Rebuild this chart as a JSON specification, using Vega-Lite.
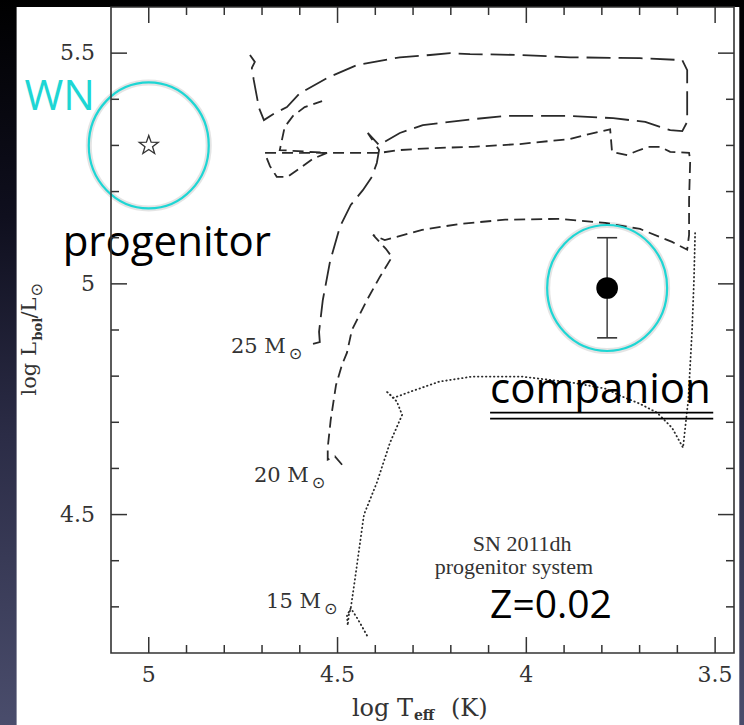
{
  "$schema": "https://vega.github.io/schema/vega-lite/v6.json",
  "autosize": {"type": "none"},
  "width": 623,
  "height": 646,
  "padding": {"left": 111, "top": 7, "right": 10, "bottom": 72},
  "background": "#000000",
  "config": {"view": {"stroke": null}},
  "datasets": {
    "t25": [
      {"i":1,"T":4.565,"L":4.870},{"i":2,"T":4.547,"L":4.874},{"i":3,"T":4.549,"L":4.896},{"i":4,"T":4.539,"L":4.965},
      {"i":5,"T":4.520,"L":5.048},{"i":6,"T":4.494,"L":5.123},{"i":7,"T":4.465,"L":5.171},{"i":8,"T":4.433,"L":5.203},
      {"i":9,"T":4.409,"L":5.232},{"i":10,"T":4.396,"L":5.262},{"i":11,"T":4.390,"L":5.290},{"i":12,"T":4.420,"L":5.327},
      {"i":13,"T":4.390,"L":5.301},{"i":14,"T":4.335,"L":5.327},{"i":15,"T":4.274,"L":5.344},{"i":16,"T":4.141,"L":5.357},
      {"i":17,"T":4.051,"L":5.364},{"i":18,"T":3.884,"L":5.364},{"i":19,"T":3.770,"L":5.359},{"i":20,"T":3.685,"L":5.351},
      {"i":21,"T":3.619,"L":5.333},{"i":22,"T":3.587,"L":5.331},{"i":23,"T":3.574,"L":5.351},{"i":24,"T":3.574,"L":5.409},
      {"i":25,"T":3.574,"L":5.463},{"i":26,"T":3.587,"L":5.485},{"i":27,"T":3.699,"L":5.489},{"i":28,"T":3.884,"L":5.491},
      {"i":29,"T":4.017,"L":5.496},{"i":30,"T":4.149,"L":5.498},{"i":31,"T":4.202,"L":5.500},{"i":32,"T":4.255,"L":5.496},
      {"i":33,"T":4.335,"L":5.491},{"i":34,"T":4.449,"L":5.474},{"i":35,"T":4.528,"L":5.446},{"i":36,"T":4.600,"L":5.413},
      {"i":37,"T":4.634,"L":5.383},{"i":38,"T":4.666,"L":5.370},{"i":39,"T":4.695,"L":5.355},{"i":40,"T":4.708,"L":5.381},
      {"i":41,"T":4.722,"L":5.442},{"i":42,"T":4.727,"L":5.468},{"i":43,"T":4.719,"L":5.481},{"i":44,"T":4.732,"L":5.496}
    ],
    "t20": [
      {"i":1,"T":4.488,"L":4.608},{"i":2,"T":4.507,"L":4.626},{"i":3,"T":4.526,"L":4.619},{"i":4,"T":4.526,"L":4.645},
      {"i":5,"T":4.518,"L":4.706},{"i":6,"T":4.504,"L":4.781},{"i":7,"T":4.488,"L":4.825},{"i":8,"T":4.475,"L":4.851},
      {"i":9,"T":4.462,"L":4.900},{"i":10,"T":4.422,"L":4.965},{"i":11,"T":4.388,"L":5.015},{"i":12,"T":4.356,"L":5.058},
      {"i":13,"T":4.372,"L":5.076},{"i":14,"T":4.406,"L":5.106},{"i":15,"T":4.375,"L":5.095},{"i":16,"T":4.276,"L":5.117},
      {"i":17,"T":4.176,"L":5.130},{"i":18,"T":4.056,"L":5.139},{"i":19,"T":3.911,"L":5.141},{"i":20,"T":3.791,"L":5.132},
      {"i":21,"T":3.699,"L":5.119},{"i":22,"T":3.614,"L":5.091},{"i":23,"T":3.574,"L":5.074},{"i":24,"T":3.569,"L":5.106},
      {"i":25,"T":3.569,"L":5.182},{"i":26,"T":3.566,"L":5.268},{"i":27,"T":3.569,"L":5.284},{"i":28,"T":3.619,"L":5.286},
      {"i":29,"T":3.646,"L":5.297},{"i":30,"T":3.677,"L":5.297},{"i":31,"T":3.707,"L":5.288},{"i":32,"T":3.733,"L":5.279},
      {"i":33,"T":3.773,"L":5.286},{"i":34,"T":3.778,"L":5.335},{"i":35,"T":3.831,"L":5.325},{"i":36,"T":3.884,"L":5.314},
      {"i":37,"T":4.017,"L":5.303},{"i":38,"T":4.141,"L":5.297},{"i":39,"T":4.255,"L":5.294},{"i":40,"T":4.335,"L":5.290},
      {"i":41,"T":4.388,"L":5.284},{"i":42,"T":4.520,"L":5.284},{"i":43,"T":4.600,"L":5.284},{"i":44,"T":4.693,"L":5.284},
      {"i":45,"T":4.679,"L":5.255},{"i":46,"T":4.661,"L":5.232},{"i":47,"T":4.632,"L":5.232},{"i":48,"T":4.565,"L":5.271},
      {"i":49,"T":4.528,"L":5.284},{"i":50,"T":4.653,"L":5.290},{"i":51,"T":4.640,"L":5.340},{"i":52,"T":4.618,"L":5.364},
      {"i":53,"T":4.587,"L":5.383},{"i":54,"T":4.541,"L":5.396}
    ],
    "t15": [
      {"i":1,"T":4.422,"L":4.238},{"i":2,"T":4.446,"L":4.273},{"i":3,"T":4.465,"L":4.297},{"i":4,"T":4.475,"L":4.281},
      {"i":5,"T":4.473,"L":4.260},{"i":6,"T":4.470,"L":4.283},{"i":7,"T":4.465,"L":4.297},{"i":8,"T":4.454,"L":4.359},
      {"i":9,"T":4.443,"L":4.424},{"i":10,"T":4.430,"L":4.500},{"i":11,"T":4.396,"L":4.569},{"i":12,"T":4.361,"L":4.656},
      {"i":13,"T":4.329,"L":4.716},{"i":14,"T":4.343,"L":4.745},{"i":15,"T":4.372,"L":4.768},{"i":16,"T":4.351,"L":4.753},
      {"i":17,"T":4.308,"L":4.766},{"i":18,"T":4.231,"L":4.788},{"i":19,"T":4.144,"L":4.799},{"i":20,"T":4.011,"L":4.799},
      {"i":21,"T":3.879,"L":4.786},{"i":22,"T":3.791,"L":4.773},{"i":23,"T":3.744,"L":4.755},{"i":24,"T":3.699,"L":4.740},
      {"i":25,"T":3.654,"L":4.721},{"i":26,"T":3.614,"L":4.688},{"i":27,"T":3.585,"L":4.645},{"i":28,"T":3.571,"L":4.749},
      {"i":29,"T":3.561,"L":4.900},{"i":30,"T":3.556,"L":5.009},{"i":31,"T":3.553,"L":5.110}
    ],
    "xmaj": [{"v":3.5},{"v":4.0},{"v":4.5},{"v":5.0}],
    "xmin": [{"v":3.6},{"v":3.7},{"v":3.8},{"v":3.9},{"v":4.1},{"v":4.2},{"v":4.3},{"v":4.4},{"v":4.6},{"v":4.7},{"v":4.8},{"v":4.9}],
    "ymaj": [{"v":4.5},{"v":5.0},{"v":5.5}],
    "ymin": [{"v":4.3},{"v":4.4},{"v":4.6},{"v":4.7},{"v":4.8},{"v":4.9},{"v":5.1},{"v":5.2},{"v":5.3},{"v":5.4}],
    "xlab": [{"lab":3.5},{"lab":4.0},{"lab":4.5},{"lab":5.0}],
    "ylab": [{"lab":4.5},{"lab":5.0},{"lab":5.5}],
    "stars": [
      {"name":"progenitor","T":5.0,"L":5.30},
      {"name":"companion","T":3.786,"L":4.991,"lo":4.883,"hi":5.100}
    ],
    "masslabels": [
      {"text":"25 M","T":4.637,"L":4.851},
      {"text":"20 M","T":4.576,"L":4.571},
      {"text":"15 M","T":4.544,"L":4.297}
    ],
    "notes": [
      {"text":"SN 2011dh","T":4.011,"L":4.422},
      {"text":"progenitor system","T":4.033,"L":4.372}
    ],
    "slide": [
      {"text":"progenitor","T":5.228,"L":5.061},
      {"text":"companion","T":4.096,"L":4.742}
    ],
    "slidez": [
      {"text":"Z=0.02","T":4.096,"L":4.275}
    ],
    "slidecyan": [
      {"text":"WN","T":5.329,"L":5.377}
    ]
  },
  "layer": [
    {
      "data": {"values": [{}]},
      "mark": {"type": "rect", "fill": {"gradient": "linear", "x1": 0, "y1": 0, "x2": 0, "y2": 1,
        "stops": [{"offset": 0, "color": "#000000"}, {"offset": 0.3, "color": "#0f0f1e"}, {"offset": 0.6, "color": "#2b2c46"}, {"offset": 1, "color": "#4a4d6c"}]}},
      "encoding": {
        "x": {"datum": 5.6, "type": "quantitative", "scale": {"domain": [3.45, 5.1], "reverse": true, "nice": false, "zero": false}, "axis": null},
        "x2": {"datum": 3.3},
        "y": {"datum": 5.62, "type": "quantitative", "scale": {"domain": [4.2, 5.6], "nice": false, "zero": false}, "axis": null},
        "y2": {"datum": 4.04}
      }
    },
    {
      "data": {"values": [{}]},
      "mark": {"type": "rect", "fill": "#ffffff"},
      "encoding": {
        "x": {"datum": 5.35, "type": "quantitative", "scale": {"domain": [3.45, 5.1], "reverse": true, "nice": false, "zero": false}, "axis": null},
        "x2": {"datum": 3.436},
        "y": {"datum": 5.6, "type": "quantitative", "scale": {"domain": [4.2, 5.6], "nice": false, "zero": false}, "axis": null},
        "y2": {"datum": 4.04}
      }
    },
    {
      "data": {"name": "xlab"},
      "mark": {"type": "text", "align": "center", "baseline": "top", "font": "DejaVu Serif", "fontSize": 22, "color": "#333333", "dy": 12},
      "encoding": {
        "x": {"field": "lab", "type": "quantitative", "scale": {"domain": [3.45, 5.1], "reverse": true, "nice": false, "zero": false}, "axis": null},
        "y": {"datum": 4.2, "type": "quantitative", "scale": {"domain": [4.2, 5.6], "nice": false, "zero": false}, "axis": null},
        "text": {"field": "lab", "type": "quantitative", "format": "~g"}
      }
    },
    {
      "data": {"name": "ylab"},
      "mark": {"type": "text", "align": "right", "baseline": "middle", "font": "DejaVu Serif", "fontSize": 22, "color": "#333333", "dx": -16},
      "encoding": {
        "y": {"field": "lab", "type": "quantitative", "scale": {"domain": [4.2, 5.6], "nice": false, "zero": false}, "axis": null},
        "x": {"datum": 5.1, "type": "quantitative", "scale": {"domain": [3.45, 5.1], "reverse": true, "nice": false, "zero": false}, "axis": null},
        "text": {"field": "lab", "type": "quantitative", "format": "~g"}
      }
    },
    {
      "data": {"name": "t25"},
      "mark": {"type": "line", "stroke": "#2a2a2a", "strokeWidth": 1.8, "strokeDash": [24, 8]},
      "encoding": {
        "x": {"field": "T", "type": "quantitative", "scale": {"domain": [3.45, 5.1], "reverse": true, "nice": false, "zero": false}, "axis": null},
        "y": {"field": "L", "type": "quantitative", "scale": {"domain": [4.2, 5.6], "nice": false, "zero": false}, "axis": null},
        "order": {"field": "i", "type": "quantitative"}
      }
    },
    {
      "data": {"name": "t20"},
      "mark": {"type": "line", "stroke": "#2a2a2a", "strokeWidth": 1.8, "strokeDash": [11, 6]},
      "encoding": {
        "x": {"field": "T", "type": "quantitative", "scale": {"domain": [3.45, 5.1], "reverse": true, "nice": false, "zero": false}, "axis": null},
        "y": {"field": "L", "type": "quantitative", "scale": {"domain": [4.2, 5.6], "nice": false, "zero": false}, "axis": null},
        "order": {"field": "i", "type": "quantitative"}
      }
    },
    {
      "data": {"name": "t15"},
      "mark": {"type": "line", "stroke": "#2a2a2a", "strokeWidth": 1.8, "strokeDash": [0.5, 3.5], "strokeCap": "round"},
      "encoding": {
        "x": {"field": "T", "type": "quantitative", "scale": {"domain": [3.45, 5.1], "reverse": true, "nice": false, "zero": false}, "axis": null},
        "y": {"field": "L", "type": "quantitative", "scale": {"domain": [4.2, 5.6], "nice": false, "zero": false}, "axis": null},
        "order": {"field": "i", "type": "quantitative"}
      }
    },
    {
      "data": {"name": "stars"},
      "mark": {"type": "point", "shape": "M -0.952 0 A 0.952 1 0 1 1 0.952 0 A 0.952 1 0 1 1 -0.952 0 Z", "size": 15876, "filled": false, "stroke": "#000000", "strokeWidth": 6, "opacity": 0.1},
      "encoding": {
        "x": {"field": "T", "type": "quantitative", "scale": {"domain": [3.45, 5.1], "reverse": true, "nice": false, "zero": false}, "axis": null},
        "y": {"field": "L", "type": "quantitative", "scale": {"domain": [4.2, 5.6], "nice": false, "zero": false}, "axis": null}
      }
    },
    {
      "data": {"name": "stars"},
      "mark": {"type": "point", "shape": "M -0.952 0 A 0.952 1 0 1 1 0.952 0 A 0.952 1 0 1 1 -0.952 0 Z", "size": 15876, "filled": false, "stroke": "#1ed6d4", "strokeWidth": 2.2, "opacity": 1},
      "encoding": {
        "x": {"field": "T", "type": "quantitative", "scale": {"domain": [3.45, 5.1], "reverse": true, "nice": false, "zero": false}, "axis": null},
        "y": {"field": "L", "type": "quantitative", "scale": {"domain": [4.2, 5.6], "nice": false, "zero": false}, "axis": null}
      }
    },
    {
      "data": {"name": "stars"},
      "transform": [{"filter": "datum.name == 'progenitor'"}],
      "mark": {"type": "point", "shape": "M0,-1L0.235,-0.324L0.951,-0.309L0.380,0.124L0.588,0.809L0,0.4L-0.588,0.809L-0.380,0.124L-0.951,-0.309L-0.235,-0.324Z", "size": 400, "filled": false, "stroke": "#333333", "strokeWidth": 1.3, "opacity": 1},
      "encoding": {
        "x": {"field": "T", "type": "quantitative", "scale": {"domain": [3.45, 5.1], "reverse": true, "nice": false, "zero": false}, "axis": null},
        "y": {"field": "L", "type": "quantitative", "scale": {"domain": [4.2, 5.6], "nice": false, "zero": false}, "axis": null}
      }
    },
    {
      "data": {"name": "stars"},
      "transform": [{"filter": "datum.name == 'companion'"}],
      "mark": {"type": "rule", "stroke": "#333333", "strokeWidth": 1.4},
      "encoding": {
        "x": {"field": "T", "type": "quantitative", "scale": {"domain": [3.45, 5.1], "reverse": true, "nice": false, "zero": false}, "axis": null},
        "y": {"field": "lo", "type": "quantitative", "scale": {"domain": [4.2, 5.6], "nice": false, "zero": false}, "axis": null},
        "y2": {"field": "hi"}
      }
    },
    {
      "data": {"name": "stars"},
      "transform": [{"filter": "datum.name == 'companion'"}],
      "mark": {"type": "tick", "orient": "horizontal", "size": 20, "thickness": 1.6, "color": "#333333", "opacity": 1},
      "encoding": {
        "x": {"field": "T", "type": "quantitative", "scale": {"domain": [3.45, 5.1], "reverse": true, "nice": false, "zero": false}, "axis": null},
        "y": {"field": "lo", "type": "quantitative", "scale": {"domain": [4.2, 5.6], "nice": false, "zero": false}, "axis": null}
      }
    },
    {
      "data": {"name": "stars"},
      "transform": [{"filter": "datum.name == 'companion'"}],
      "mark": {"type": "tick", "orient": "horizontal", "size": 20, "thickness": 1.6, "color": "#333333", "opacity": 1},
      "encoding": {
        "x": {"field": "T", "type": "quantitative", "scale": {"domain": [3.45, 5.1], "reverse": true, "nice": false, "zero": false}, "axis": null},
        "y": {"field": "hi", "type": "quantitative", "scale": {"domain": [4.2, 5.6], "nice": false, "zero": false}, "axis": null}
      }
    },
    {
      "data": {"name": "stars"},
      "transform": [{"filter": "datum.name == 'companion'"}],
      "mark": {"type": "point", "shape": "circle", "size": 470, "filled": true, "color": "#000000", "opacity": 1},
      "encoding": {
        "x": {"field": "T", "type": "quantitative", "scale": {"domain": [3.45, 5.1], "reverse": true, "nice": false, "zero": false}, "axis": null},
        "y": {"field": "L", "type": "quantitative", "scale": {"domain": [4.2, 5.6], "nice": false, "zero": false}, "axis": null}
      }
    },
    {
      "data": {"name": "masslabels"},
      "mark": {"type": "text", "align": "right", "baseline": "alphabetic", "font": "DejaVu Serif", "fontSize": 21, "color": "#333333"},
      "encoding": {
        "x": {"field": "T", "type": "quantitative", "scale": {"domain": [3.45, 5.1], "reverse": true, "nice": false, "zero": false}, "axis": null},
        "y": {"field": "L", "type": "quantitative", "scale": {"domain": [4.2, 5.6], "nice": false, "zero": false}, "axis": null},
        "text": {"field": "text"}
      }
    },
    {
      "data": {"name": "masslabels"},
      "mark": {"type": "text", "align": "left", "baseline": "alphabetic", "font": "DejaVu Sans", "fontSize": 16, "color": "#333333", "dx": 3, "dy": 6},
      "encoding": {
        "x": {"field": "T", "type": "quantitative", "scale": {"domain": [3.45, 5.1], "reverse": true, "nice": false, "zero": false}, "axis": null},
        "y": {"field": "L", "type": "quantitative", "scale": {"domain": [4.2, 5.6], "nice": false, "zero": false}, "axis": null},
        "text": {"value": "⊙"}
      }
    },
    {
      "data": {"name": "notes"},
      "mark": {"type": "text", "align": "center", "baseline": "alphabetic", "font": "Liberation Serif", "fontSize": 22, "color": "#333333"},
      "encoding": {
        "x": {"field": "T", "type": "quantitative", "scale": {"domain": [3.45, 5.1], "reverse": true, "nice": false, "zero": false}, "axis": null},
        "y": {"field": "L", "type": "quantitative", "scale": {"domain": [4.2, 5.6], "nice": false, "zero": false}, "axis": null},
        "text": {"field": "text"}
      }
    },
    {
      "data": {"name": "slide"},
      "mark": {"type": "text", "align": "left", "baseline": "alphabetic", "font": "Open Sans", "fontSize": 42, "color": "#000000"},
      "encoding": {
        "x": {"field": "T", "type": "quantitative", "scale": {"domain": [3.45, 5.1], "reverse": true, "nice": false, "zero": false}, "axis": null},
        "y": {"field": "L", "type": "quantitative", "scale": {"domain": [4.2, 5.6], "nice": false, "zero": false}, "axis": null},
        "text": {"field": "text"}
      }
    },
    {
      "data": {"name": "slidez"},
      "mark": {"type": "text", "align": "left", "baseline": "alphabetic", "font": "Open Sans", "fontSize": 39, "color": "#000000"},
      "encoding": {
        "x": {"field": "T", "type": "quantitative", "scale": {"domain": [3.45, 5.1], "reverse": true, "nice": false, "zero": false}, "axis": null},
        "y": {"field": "L", "type": "quantitative", "scale": {"domain": [4.2, 5.6], "nice": false, "zero": false}, "axis": null},
        "text": {"field": "text"}
      }
    },
    {
      "data": {"name": "slidecyan"},
      "mark": {"type": "text", "align": "left", "baseline": "alphabetic", "font": "Open Sans", "fontSize": 42, "color": "#1ed6d4"},
      "encoding": {
        "x": {"field": "T", "type": "quantitative", "scale": {"domain": [3.45, 5.1], "reverse": true, "nice": false, "zero": false}, "axis": null},
        "y": {"field": "L", "type": "quantitative", "scale": {"domain": [4.2, 5.6], "nice": false, "zero": false}, "axis": null},
        "text": {"field": "text"}
      }
    },
    {
      "data": {"values": [{}]},
      "mark": {"type": "rule", "stroke": "#000000", "strokeWidth": 1.8},
      "encoding": {
        "x": {"datum": 4.096, "type": "quantitative", "scale": {"domain": [3.45, 5.1], "reverse": true, "nice": false, "zero": false}, "axis": null},
        "x2": {"datum": 3.505},
        "y": {"datum": 4.721, "type": "quantitative", "scale": {"domain": [4.2, 5.6], "nice": false, "zero": false}, "axis": null}
      }
    },
    {
      "data": {"values": [{}]},
      "mark": {"type": "rule", "stroke": "#000000", "strokeWidth": 1.8},
      "encoding": {
        "x": {"datum": 4.096, "type": "quantitative", "scale": {"domain": [3.45, 5.1], "reverse": true, "nice": false, "zero": false}, "axis": null},
        "x2": {"datum": 3.505},
        "y": {"datum": 4.708, "type": "quantitative", "scale": {"domain": [4.2, 5.6], "nice": false, "zero": false}, "axis": null}
      }
    },
    {
      "data": {"values": [{}]},
      "mark": {"type": "text", "align": "left", "baseline": "alphabetic", "font": "DejaVu Serif", "fontSize": 24, "color": "#333333"},
      "encoding": {
        "x": {"datum": 4.462, "type": "quantitative", "scale": {"domain": [3.45, 5.1], "reverse": true, "nice": false, "zero": false}, "axis": null},
        "y": {"datum": 4.0635, "type": "quantitative", "scale": {"domain": [4.2, 5.6], "nice": false, "zero": false}, "axis": null},
        "text": {"value": "log T"}
      }
    },
    {
      "data": {"values": [{}]},
      "mark": {"type": "text", "align": "left", "baseline": "alphabetic", "font": "DejaVu Serif", "fontSize": 14, "fontWeight": "bold", "color": "#333333", "dx": 62, "dy": 4},
      "encoding": {
        "x": {"datum": 4.462, "type": "quantitative", "scale": {"domain": [3.45, 5.1], "reverse": true, "nice": false, "zero": false}, "axis": null},
        "y": {"datum": 4.0635, "type": "quantitative", "scale": {"domain": [4.2, 5.6], "nice": false, "zero": false}, "axis": null},
        "text": {"value": "eff"}
      }
    },
    {
      "data": {"values": [{}]},
      "mark": {"type": "text", "align": "left", "baseline": "alphabetic", "font": "DejaVu Serif", "fontSize": 24, "color": "#333333", "dx": 99},
      "encoding": {
        "x": {"datum": 4.462, "type": "quantitative", "scale": {"domain": [3.45, 5.1], "reverse": true, "nice": false, "zero": false}, "axis": null},
        "y": {"datum": 4.0635, "type": "quantitative", "scale": {"domain": [4.2, 5.6], "nice": false, "zero": false}, "axis": null},
        "text": {"value": "(K)"}
      }
    },
    {
      "data": {"values": [{}]},
      "mark": {"type": "text", "align": "left", "baseline": "alphabetic", "font": "DejaVu Serif", "fontSize": 21, "color": "#333333", "angle": 270},
      "encoding": {
        "x": {"datum": 5.2995, "type": "quantitative", "scale": {"domain": [3.45, 5.1], "reverse": true, "nice": false, "zero": false}, "axis": null},
        "y": {"datum": 4.758, "type": "quantitative", "scale": {"domain": [4.2, 5.6], "nice": false, "zero": false}, "axis": null},
        "text": {"value": "log L"}
      }
    },
    {
      "data": {"values": [{}]},
      "mark": {"type": "text", "align": "left", "baseline": "alphabetic", "font": "DejaVu Serif", "fontSize": 13, "fontWeight": "bold", "color": "#333333", "angle": 270, "dx": 55, "dy": 6},
      "encoding": {
        "x": {"datum": 5.2995, "type": "quantitative", "scale": {"domain": [3.45, 5.1], "reverse": true, "nice": false, "zero": false}, "axis": null},
        "y": {"datum": 4.758, "type": "quantitative", "scale": {"domain": [4.2, 5.6], "nice": false, "zero": false}, "axis": null},
        "text": {"value": "bol"}
      }
    },
    {
      "data": {"values": [{}]},
      "mark": {"type": "text", "align": "left", "baseline": "alphabetic", "font": "DejaVu Serif", "fontSize": 21, "color": "#333333", "angle": 270, "dx": 77},
      "encoding": {
        "x": {"datum": 5.2995, "type": "quantitative", "scale": {"domain": [3.45, 5.1], "reverse": true, "nice": false, "zero": false}, "axis": null},
        "y": {"datum": 4.758, "type": "quantitative", "scale": {"domain": [4.2, 5.6], "nice": false, "zero": false}, "axis": null},
        "text": {"value": "/L"}
      }
    },
    {
      "data": {"values": [{}]},
      "mark": {"type": "text", "align": "left", "baseline": "alphabetic", "font": "DejaVu Sans", "fontSize": 16, "color": "#333333", "angle": 270, "dx": 99, "dy": 6},
      "encoding": {
        "x": {"datum": 5.2995, "type": "quantitative", "scale": {"domain": [3.45, 5.1], "reverse": true, "nice": false, "zero": false}, "axis": null},
        "y": {"datum": 4.758, "type": "quantitative", "scale": {"domain": [4.2, 5.6], "nice": false, "zero": false}, "axis": null},
        "text": {"value": "⊙"}
      }
    },
    {
      "data": {"values": [{}]},
      "mark": {"type": "rect", "fill": null, "fillOpacity": 0, "stroke": "#333333", "strokeWidth": 1.6},
      "encoding": {
        "x": {"datum": 5.1, "type": "quantitative", "scale": {"domain": [3.45, 5.1], "reverse": true, "nice": false, "zero": false}, "axis": null},
        "x2": {"datum": 3.45},
        "y": {"datum": 4.2, "type": "quantitative", "scale": {"domain": [4.2, 5.6], "nice": false, "zero": false}, "axis": null},
        "y2": {"datum": 5.6}
      }
    },
    {
      "data": {"name": "xmaj"},
      "mark": {"type": "rule", "stroke": "#333333", "strokeWidth": 1.5},
      "encoding": {
        "x": {"field": "v", "type": "quantitative", "scale": {"domain": [3.45, 5.1], "reverse": true, "nice": false, "zero": false}, "axis": null},
        "x2": {"field": "v"},
        "y": {"datum": 4.2, "type": "quantitative", "scale": {"domain": [4.2, 5.6], "nice": false, "zero": false}, "axis": null},
        "y2": {"datum": 4.2346}
      }
    },
    {
      "data": {"name": "xmin"},
      "mark": {"type": "rule", "stroke": "#333333", "strokeWidth": 1.5},
      "encoding": {
        "x": {"field": "v", "type": "quantitative", "scale": {"domain": [3.45, 5.1], "reverse": true, "nice": false, "zero": false}, "axis": null},
        "x2": {"field": "v"},
        "y": {"datum": 4.2, "type": "quantitative", "scale": {"domain": [4.2, 5.6], "nice": false, "zero": false}, "axis": null},
        "y2": {"datum": 4.2173}
      }
    },
    {
      "data": {"name": "xmaj"},
      "mark": {"type": "rule", "stroke": "#333333", "strokeWidth": 1.5},
      "encoding": {
        "x": {"field": "v", "type": "quantitative", "scale": {"domain": [3.45, 5.1], "reverse": true, "nice": false, "zero": false}, "axis": null},
        "x2": {"field": "v"},
        "y": {"datum": 5.6, "type": "quantitative", "scale": {"domain": [4.2, 5.6], "nice": false, "zero": false}, "axis": null},
        "y2": {"datum": 5.5654}
      }
    },
    {
      "data": {"name": "xmin"},
      "mark": {"type": "rule", "stroke": "#333333", "strokeWidth": 1.5},
      "encoding": {
        "x": {"field": "v", "type": "quantitative", "scale": {"domain": [3.45, 5.1], "reverse": true, "nice": false, "zero": false}, "axis": null},
        "x2": {"field": "v"},
        "y": {"datum": 5.6, "type": "quantitative", "scale": {"domain": [4.2, 5.6], "nice": false, "zero": false}, "axis": null},
        "y2": {"datum": 5.5827}
      }
    },
    {
      "data": {"name": "ymaj"},
      "mark": {"type": "rule", "stroke": "#333333", "strokeWidth": 1.5},
      "encoding": {
        "y": {"field": "v", "type": "quantitative", "scale": {"domain": [4.2, 5.6], "nice": false, "zero": false}, "axis": null},
        "y2": {"field": "v"},
        "x": {"datum": 5.1, "type": "quantitative", "scale": {"domain": [3.45, 5.1], "reverse": true, "nice": false, "zero": false}, "axis": null},
        "x2": {"datum": 5.0576}
      }
    },
    {
      "data": {"name": "ymin"},
      "mark": {"type": "rule", "stroke": "#333333", "strokeWidth": 1.5},
      "encoding": {
        "y": {"field": "v", "type": "quantitative", "scale": {"domain": [4.2, 5.6], "nice": false, "zero": false}, "axis": null},
        "y2": {"field": "v"},
        "x": {"datum": 5.1, "type": "quantitative", "scale": {"domain": [3.45, 5.1], "reverse": true, "nice": false, "zero": false}, "axis": null},
        "x2": {"datum": 5.0788}
      }
    },
    {
      "data": {"name": "ymaj"},
      "mark": {"type": "rule", "stroke": "#333333", "strokeWidth": 1.5},
      "encoding": {
        "y": {"field": "v", "type": "quantitative", "scale": {"domain": [4.2, 5.6], "nice": false, "zero": false}, "axis": null},
        "y2": {"field": "v"},
        "x": {"datum": 3.45, "type": "quantitative", "scale": {"domain": [3.45, 5.1], "reverse": true, "nice": false, "zero": false}, "axis": null},
        "x2": {"datum": 3.4924}
      }
    },
    {
      "data": {"name": "ymin"},
      "mark": {"type": "rule", "stroke": "#333333", "strokeWidth": 1.5},
      "encoding": {
        "y": {"field": "v", "type": "quantitative", "scale": {"domain": [4.2, 5.6], "nice": false, "zero": false}, "axis": null},
        "y2": {"field": "v"},
        "x": {"datum": 3.45, "type": "quantitative", "scale": {"domain": [3.45, 5.1], "reverse": true, "nice": false, "zero": false}, "axis": null},
        "x2": {"datum": 3.4712}
      }
    }
  ]
}
